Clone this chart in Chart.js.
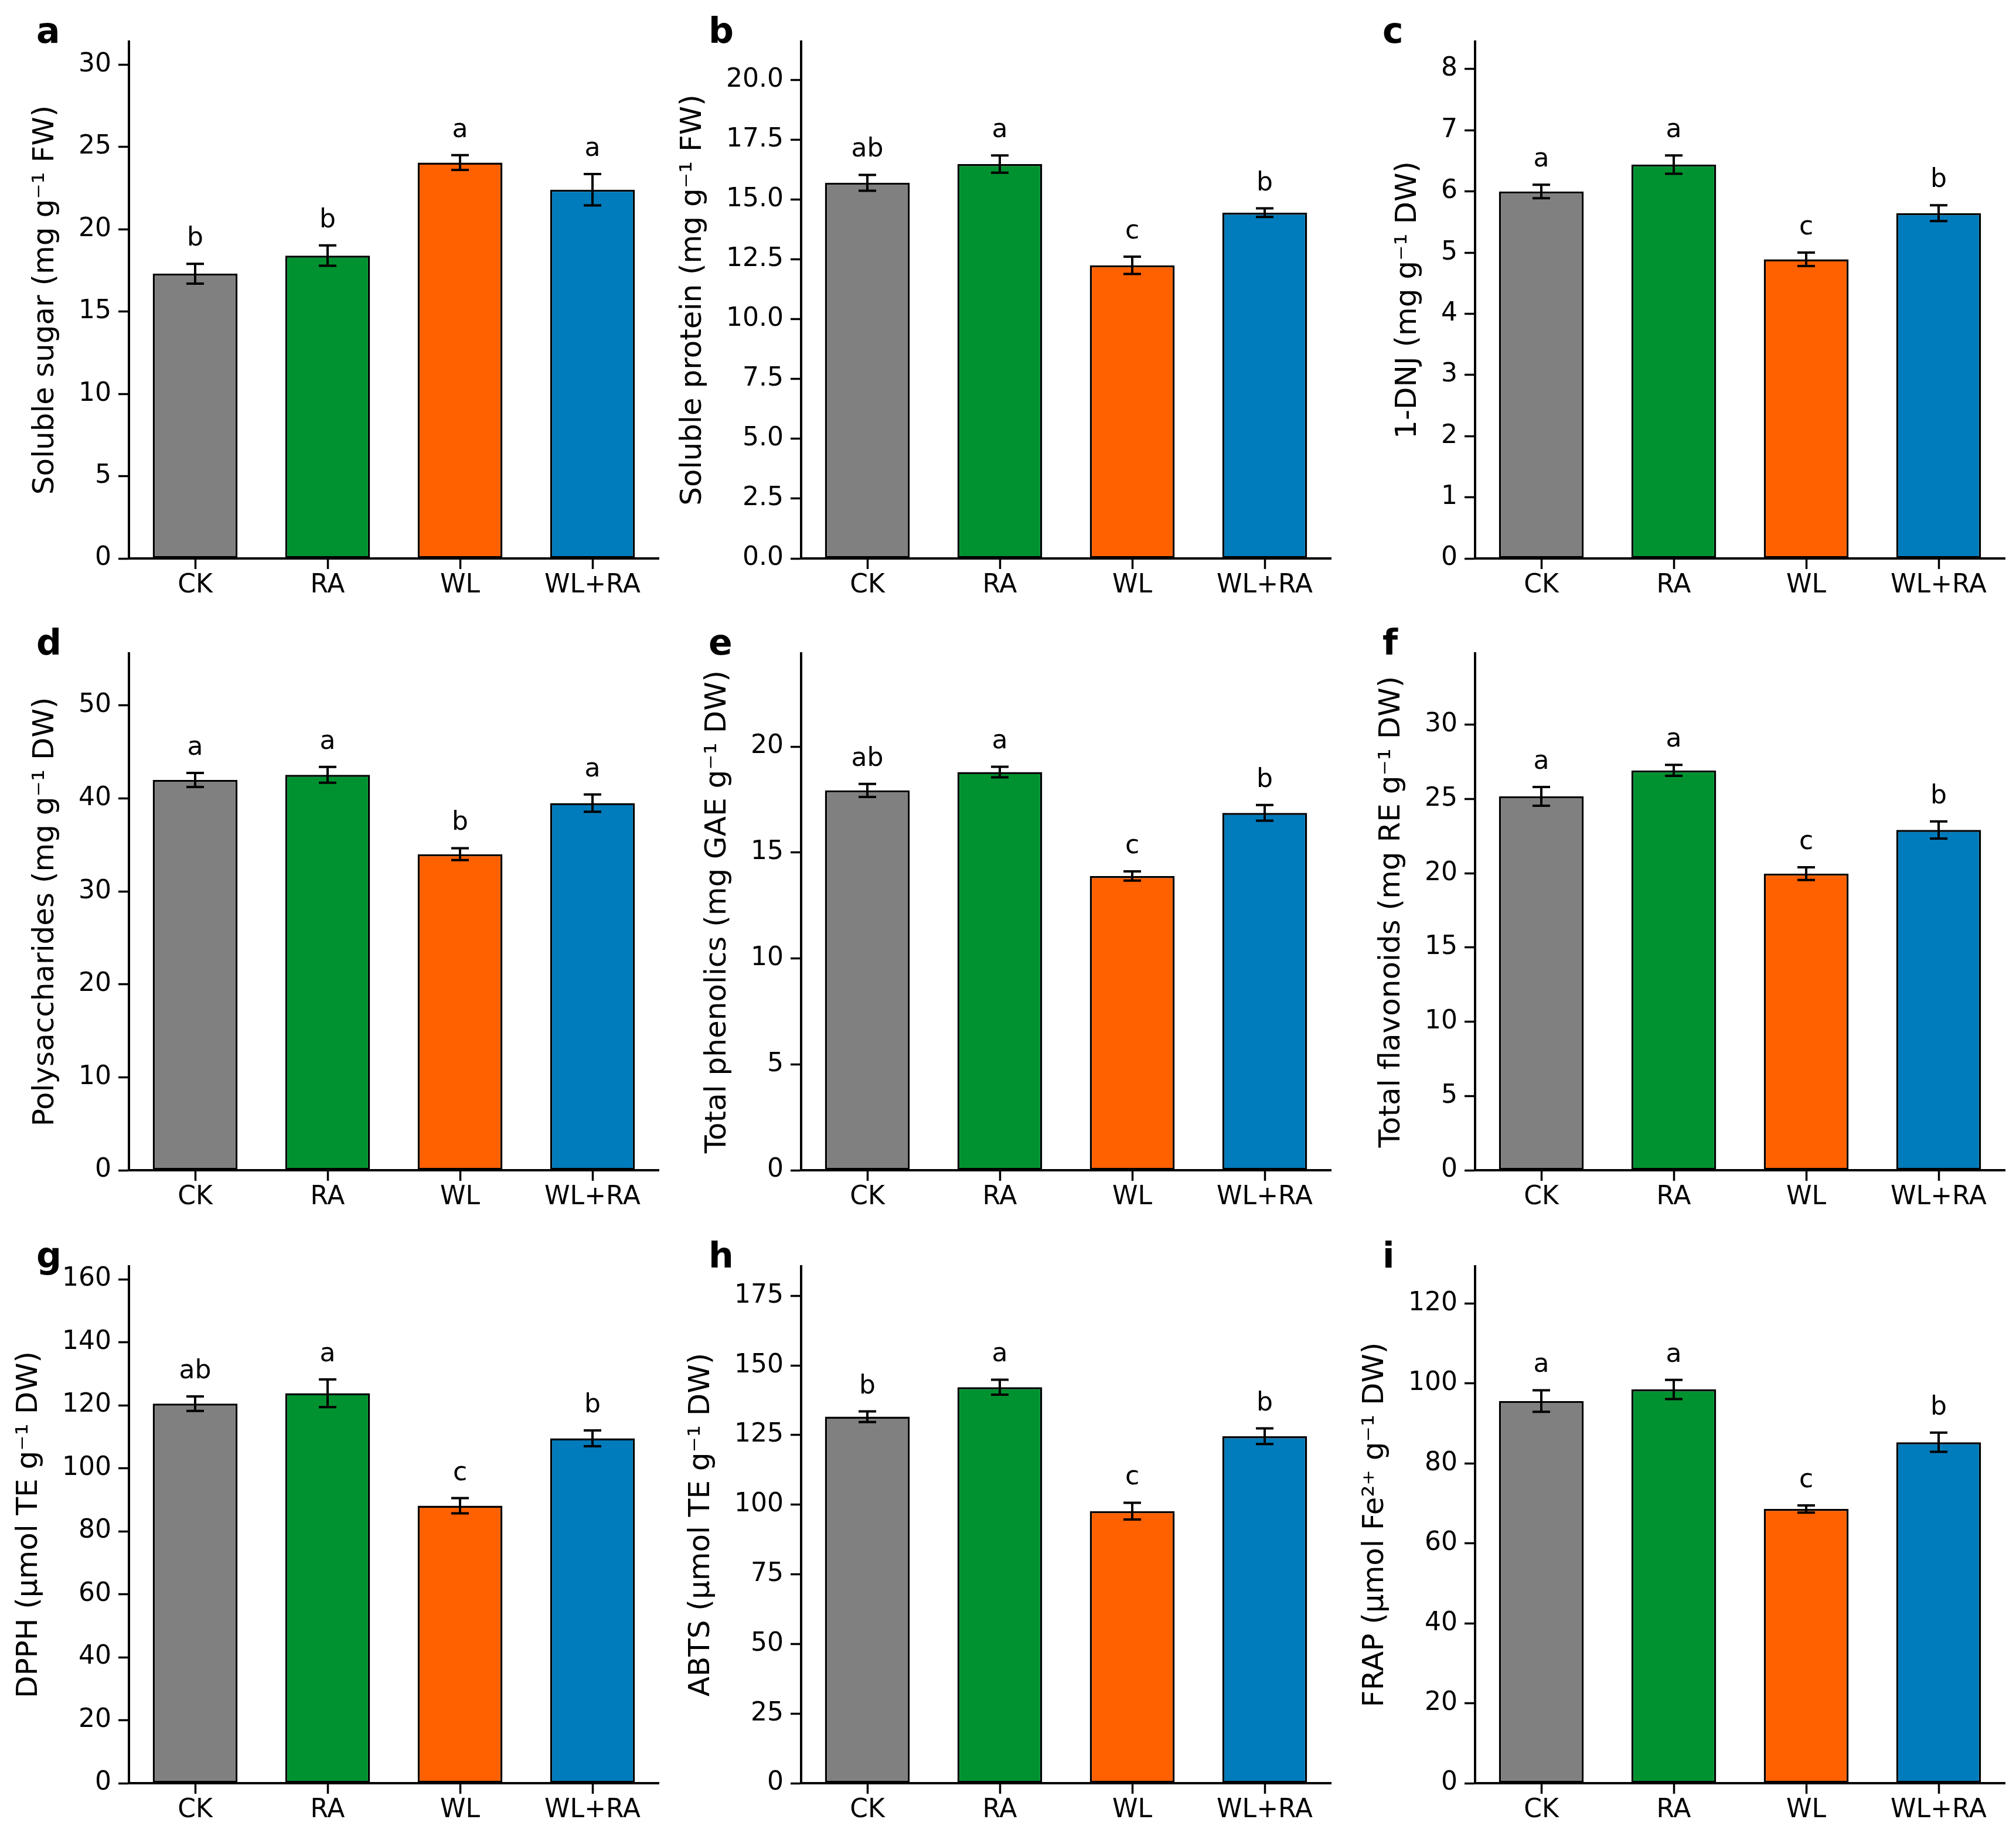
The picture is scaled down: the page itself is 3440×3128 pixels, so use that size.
<!DOCTYPE html>
<html>
<head>
<meta charset="utf-8">
<script src="https://cdn.jsdelivr.net/npm/chart.js@4.4.1/dist/chart.umd.min.js"></script>
<style>
  html, body { margin: 0; padding: 0; background: #fff; }
  #fig { position: relative; width: 3440px; height: 3128px; background: #fff; }
  #fig canvas { position: absolute; }
</style>
</head>
<body>
<div id="fig"></div>
<script>
// treatments
var categories = ["CK", "RA", "WL", "WL+RA"];
var barColors = ["#808080", "#009230", "#ff6000", "#007bbb"];

// means, standard errors and significance letters per panel
var sugarMean = [17.3, 18.4, 24.05, 22.4];
var sugarErr = [0.6, 0.62, 0.45, 0.95];
var sugarSig = ["b", "b", "a", "a"];

var proteinMean = [15.7, 16.48, 12.25, 14.45];
var proteinErr = [0.33, 0.36, 0.36, 0.18];
var proteinSig = ["ab", "a", "c", "b"];

var dnjMean = [6.0, 6.44, 4.89, 5.645];
var dnjErr = [0.11, 0.15, 0.11, 0.13];
var dnjSig = ["a", "a", "c", "b"];

var polyMean = [41.98, 42.53, 34.0, 39.5];
var polyErr = [0.76, 0.85, 0.64, 0.93];
var polySig = ["a", "a", "b", "a"];

var phenolMean = [17.93, 18.8, 13.89, 16.87];
var phenolErr = [0.31, 0.25, 0.22, 0.37];
var phenolSig = ["ab", "a", "c", "b"];

var flavMean = [25.17, 26.92, 19.97, 22.91];
var flavErr = [0.63, 0.37, 0.43, 0.58];
var flavSig = ["a", "a", "c", "b"];

var dpphMean = [120.5, 123.8, 88.1, 109.5];
var dpphErr = [2.3, 4.4, 2.4, 2.5];
var dpphSig = ["ab", "a", "c", "b"];

var abtsMean = [131.6, 142.2, 97.7, 124.6];
var abtsErr = [1.9, 2.7, 3.0, 2.8];
var abtsSig = ["b", "a", "c", "b"];

var frapMean = [95.6, 98.5, 68.6, 85.3];
var frapErr = [2.7, 2.4, 0.9, 2.4];
var frapSig = ["a", "a", "c", "b"];

// axis titles, y limits and tick steps
var panelTags = ["a", "b", "c", "d", "e", "f", "g", "h", "i"];
var yTitles = [
  "Soluble sugar (mg g\u207B\u00B9 FW)",
  "Soluble protein (mg g\u207B\u00B9 FW)",
  "1-DNJ (mg g\u207B\u00B9 DW)",
  "Polysaccharides (mg g\u207B\u00B9 DW)",
  "Total phenolics (mg GAE g\u207B\u00B9 DW)",
  "Total flavonoids (mg RE g\u207B\u00B9 DW)",
  "DPPH (\u00B5mol TE g\u207B\u00B9 DW)",
  "ABTS (\u00B5mol TE g\u207B\u00B9 DW)",
  "FRAP (\u00B5mol Fe\u00B2\u207A g\u207B\u00B9 DW)"
];
var yMax = [31.4, 21.6, 8.45, 55.6, 24.4, 34.8, 164.1, 185.6, 129.3];
var yStep = [5, 2.5, 1, 10, 5, 5, 20, 25, 20];
var yDecimals = [0, 1, 0, 0, 0, 0, 0, 0, 0];

var means = [sugarMean, proteinMean, dnjMean, polyMean, phenolMean, flavMean, dpphMean, abtsMean, frapMean];
var errs = [sugarErr, proteinErr, dnjErr, polyErr, phenolErr, flavErr, dpphErr, abtsErr, frapErr];
var sigs = [sugarSig, proteinSig, dnjSig, polySig, phenolSig, flavSig, dpphSig, abtsSig, frapSig];

// grid of panels
var colX = [0, 1147, 2297];
var rowY = [0, 1044, 2090];
var cellW = 1143, cellH = 1038;
var axisLeft = 220, axisTop = 71, axisRight = 1124, axisBottom = 953;
var xScaleH = 85;
var tickLen = 18, yTickPad = 12;

var FONT = "DejaVu Sans";
var TICK_SIZE = 44, TITLE_SIZE = 50;
Chart.defaults.font.family = FONT;
Chart.defaults.font.size = TICK_SIZE;
Chart.defaults.color = "#000";

function makePanel(k) {
  var canvas = document.createElement("canvas");
  canvas.width = cellW;
  canvas.height = cellH;
  canvas.style.left = colX[k % 3] + "px";
  canvas.style.top = rowY[Math.floor(k / 3)] + "px";
  document.getElementById("fig").appendChild(canvas);

  var decorations = {
    id: "decorations",
    afterDatasetsDraw: function (chart) {
      var ctx = chart.ctx;
      var y = chart.scales.y;
      var area = chart.chartArea;
      var bars = chart.getDatasetMeta(0).data;
      ctx.save();
      // error bars and letters
      ctx.strokeStyle = "#000";
      ctx.fillStyle = "#000";
      ctx.lineWidth = 4;
      ctx.font = TICK_SIZE + "px '" + FONT + "'";
      ctx.textAlign = "center";
      ctx.textBaseline = "alphabetic";
      bars.forEach(function (bar, i) {
        var hi = y.getPixelForValue(means[k][i] + errs[k][i]);
        var lo = y.getPixelForValue(means[k][i] - errs[k][i]);
        ctx.beginPath();
        ctx.moveTo(bar.x, hi);
        ctx.lineTo(bar.x, lo);
        ctx.moveTo(bar.x - 15, hi);
        ctx.lineTo(bar.x + 15, hi);
        ctx.moveTo(bar.x - 15, lo);
        ctx.lineTo(bar.x + 15, lo);
        ctx.stroke();
        ctx.fillText(sigs[k][i], bar.x, hi - 31);
      });
      // y axis title, placed left of the widest tick label
      var widest = 0;
      y.ticks.forEach(function (t) {
        widest = Math.max(widest, ctx.measureText(t.value.toFixed(yDecimals[k])).width);
      });
      var tx = area.left - tickLen - yTickPad - widest - 56;
      ctx.save();
      ctx.translate(tx, (area.top + area.bottom) / 2);
      ctx.rotate(-Math.PI / 2);
      ctx.textBaseline = "middle";
      ctx.font = TITLE_SIZE + "px '" + FONT + "'";
      ctx.fillText(yTitles[k], 0, 0);
      ctx.restore();
      // panel tag
      ctx.font = "bold 60px '" + FONT + "'";
      ctx.textAlign = "left";
      ctx.fillText(panelTags[k], area.left - 158, area.top + 2);
      ctx.restore();
    }
  };

  return new Chart(canvas, {
    type: "bar",
    data: {
      labels: categories,
      datasets: [{
        data: means[k],
        backgroundColor: barColors,
        borderColor: "#000",
        borderWidth: 3.5,
        borderSkipped: false,
        barPercentage: 0.64,
        categoryPercentage: 1.0
      }]
    },
    options: {
      responsive: false,
      animation: false,
      devicePixelRatio: 1,
      layout: {
        padding: {
          left: 0,
          top: axisTop,
          right: cellW - axisRight,
          bottom: cellH - axisBottom - xScaleH
        }
      },
      plugins: { legend: { display: false }, tooltip: { enabled: false } },
      scales: {
        x: {
          offset: true,
          grid: { offset: false, drawOnChartArea: false, tickLength: tickLen, tickWidth: 3.5, tickColor: "#000" },
          border: { display: true, color: "#000", width: 4 },
          ticks: { padding: 2, font: { size: TICK_SIZE }, maxRotation: 0 },
          afterFit: function (s) { s.height = xScaleH; }
        },
        y: {
          min: 0,
          max: yMax[k],
          grid: { drawOnChartArea: false, tickLength: tickLen, tickWidth: 3.5, tickColor: "#000" },
          border: { display: true, color: "#000", width: 4 },
          ticks: {
            stepSize: yStep[k],
            includeBounds: false,
            padding: yTickPad,
            font: { size: TICK_SIZE },
            callback: function (v) { return Number(v).toFixed(yDecimals[k]); }
          },
          afterFit: function (s) { s.width = axisLeft; }
        }
      }
    },
    plugins: [decorations]
  });
}

for (var k = 0; k < 9; k++) {
  makePanel(k);
}
</script>
</body>
</html>
